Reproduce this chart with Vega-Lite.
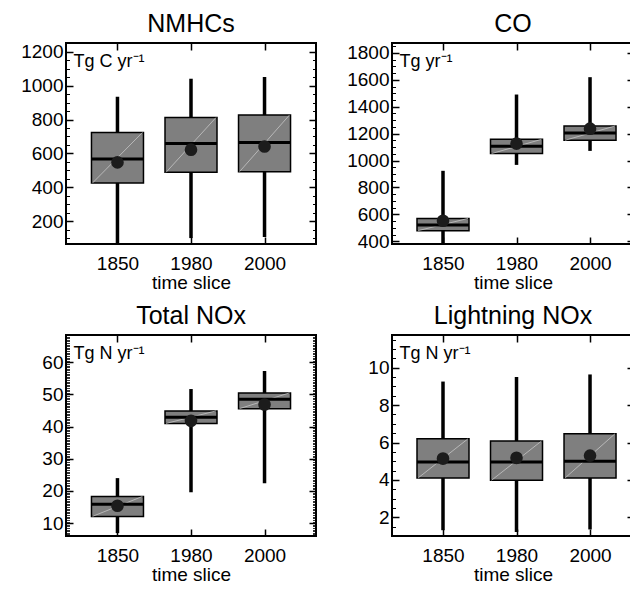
{
  "$schema": "https://vega.github.io/schema/vega-lite/v6.json",
  "background": "white",
  "padding": {"left": 13, "top": 11, "right": 0, "bottom": 0},
  "config": {
    "font": "Liberation Sans",
    "view": {"stroke": "black", "strokeWidth": 2},
    "title": {"font": "Liberation Sans", "fontSize": 25, "fontWeight": "normal", "color": "black", "offset": 5},
    "axis": {
      "domain": false,
      "grid": false,
      "tickColor": "black",
      "labelColor": "black",
      "titleColor": "black",
      "labelFont": "Liberation Sans",
      "titleFont": "Liberation Sans",
      "labelFontSize": 19,
      "titleFontSize": 19,
      "titleFontWeight": "normal"
    }
  },
  "datasets": {
    "nmhc": [
      {"slice": "1850", "lo": 65, "q1": 425, "med": 567, "q3": 724, "hi": 935, "mean": 547},
      {"slice": "1980", "lo": 100, "q1": 488, "med": 659, "q3": 812, "hi": 1041, "mean": 622},
      {"slice": "2000", "lo": 106, "q1": 492, "med": 665, "q3": 827, "hi": 1051, "mean": 641}
    ],
    "co": [
      {"slice": "1850", "lo": 380, "q1": 479, "med": 521, "q3": 570, "hi": 924, "mean": 553},
      {"slice": "1980", "lo": 968, "q1": 1052, "med": 1106, "q3": 1158, "hi": 1491, "mean": 1126},
      {"slice": "2000", "lo": 1072, "q1": 1151, "med": 1205, "q3": 1257, "hi": 1620, "mean": 1237}
    ],
    "nox": [
      {"slice": "1850", "lo": 6.9, "q1": 12.1, "med": 15.9, "q3": 18.3, "hi": 24.0, "mean": 15.4},
      {"slice": "1980", "lo": 19.6, "q1": 41.0, "med": 42.9, "q3": 44.9, "hi": 51.7, "mean": 41.8},
      {"slice": "2000", "lo": 22.4, "q1": 45.6, "med": 48.5, "q3": 50.5, "hi": 57.3, "mean": 46.9}
    ],
    "lnox": [
      {"slice": "1850", "lo": 1.31, "q1": 4.1, "med": 4.96, "q3": 6.2, "hi": 9.26, "mean": 5.14},
      {"slice": "1980", "lo": 1.22, "q1": 3.98, "med": 4.96, "q3": 6.08, "hi": 9.5, "mean": 5.18},
      {"slice": "2000", "lo": 1.35, "q1": 4.1, "med": 5.0, "q3": 6.47, "hi": 9.64, "mean": 5.3}
    ]
  },
  "columns": 2,
  "spacing": {"row": 10, "column": 21},
  "concat": [
    {
      "title": "NMHCs",
      "width": 250,
      "height": 201,
      "data": {"name": "nmhc"},
      "resolve": {"axis": {"x": "independent", "y": "independent"}},
      "layer": [
        {
          "mark": {"type": "rule", "strokeWidth": 3.5, "color": "black"},
          "encoding": {
            "x": {"field": "slice", "type": "ordinal", "scale": {"type": "point", "padding": 0.7},
              "axis": {"orient": "bottom", "title": "time slice", "labelAngle": 0, "tickSize": -7, "tickWidth": 1.5, "labelPadding": 17, "titlePadding": 0}},
            "y": {"field": "lo", "type": "quantitative", "scale": {"domain": [65, 1252], "nice": false, "zero": false},
              "axis": {"orient": "left", "format": "d", "values": [200, 400, 600, 800, 1000, 1200], "tickSize": -7, "tickWidth": 1.5, "labelPadding": 10, "minExtent": 52, "maxExtent": 52,
                "title": "Tg C yr⁻¹", "titleAngle": 0, "titleAlign": "left", "titleBaseline": "top", "titleX": 7, "titleY": 9, "titleFontSize": 18}},
            "y2": {"field": "hi"}
          }
        },
        {
          "mark": {"type": "bar", "width": 52, "fill": "#7f7f7f", "stroke": "black", "strokeWidth": 1.5},
          "encoding": {
            "x": {"field": "slice", "type": "ordinal", "axis": {"orient": "top", "labels": false, "title": null, "tickSize": -7, "tickWidth": 1.5}},
            "y": {"field": "q1", "type": "quantitative", "axis": {"orient": "right", "labels": false, "title": null, "values": [200, 400, 600, 800, 1000, 1200], "tickSize": -7, "tickWidth": 1.5}},
            "y2": {"field": "q3"}
          }
        },
        {
          "mark": {"type": "rule", "xOffset": -25, "x2Offset": 25, "color": "#d0d0d0", "strokeWidth": 0.7},
          "encoding": {
            "x": {"field": "slice", "type": "ordinal", "axis": null},
            "x2": {"field": "slice"},
            "y": {"field": "q1", "type": "quantitative", "axis": {"orient": "left", "labels": false, "title": null, "tickSize": -3.5, "tickWidth": 1,
              "values": [100, 150, 250, 300, 350, 450, 500, 550, 650, 700, 750, 850, 900, 950, 1050, 1100, 1150, 1250]}},
            "y2": {"field": "q3"}
          }
        },
        {
          "mark": {"type": "tick", "size": 52, "thickness": 3, "color": "black", "opacity": 1},
          "encoding": {
            "x": {"field": "slice", "type": "ordinal", "axis": null},
            "y": {"field": "med", "type": "quantitative", "axis": {"orient": "right", "labels": false, "title": null, "tickSize": -3.5, "tickWidth": 1,
              "values": [100, 150, 250, 300, 350, 450, 500, 550, 650, 700, 750, 850, 900, 950, 1050, 1100, 1150, 1250]}}
          }
        },
        {
          "mark": {"type": "point", "filled": true, "size": 160, "color": "#1c1c1c", "opacity": 1},
          "encoding": {
            "x": {"field": "slice", "type": "ordinal", "axis": null},
            "y": {"field": "mean", "type": "quantitative", "axis": null}
          }
        }
      ]
    },
    {
      "title": "CO",
      "width": 242,
      "height": 201,
      "data": {"name": "co"},
      "resolve": {"axis": {"x": "independent", "y": "independent"}},
      "layer": [
        {
          "mark": {"type": "rule", "strokeWidth": 3.5, "color": "black"},
          "encoding": {
            "x": {"field": "slice", "type": "ordinal", "scale": {"type": "point", "padding": 0.646, "align": 0.537},
              "axis": {"orient": "bottom", "title": "time slice", "labelAngle": 0, "tickSize": -7, "tickWidth": 1.5, "labelPadding": 17, "titlePadding": 0}},
            "y": {"field": "lo", "type": "quantitative", "scale": {"domain": [380, 1874], "nice": false, "zero": false},
              "axis": {"orient": "left", "format": "d", "values": [400, 600, 800, 1000, 1200, 1400, 1600, 1800], "tickSize": -7, "tickWidth": 1.5, "labelPadding": 10, "minExtent": 52, "maxExtent": 52,
                "title": "Tg yr⁻¹", "titleAngle": 0, "titleAlign": "left", "titleBaseline": "top", "titleX": 7, "titleY": 9, "titleFontSize": 18}},
            "y2": {"field": "hi"}
          }
        },
        {
          "mark": {"type": "bar", "width": 52, "fill": "#7f7f7f", "stroke": "black", "strokeWidth": 1.5},
          "encoding": {
            "x": {"field": "slice", "type": "ordinal", "axis": {"orient": "top", "labels": false, "title": null, "tickSize": -7, "tickWidth": 1.5}},
            "y": {"field": "q1", "type": "quantitative", "axis": {"orient": "right", "labels": false, "title": null, "values": [400, 600, 800, 1000, 1200, 1400, 1600, 1800], "tickSize": -7, "tickWidth": 1.5}},
            "y2": {"field": "q3"}
          }
        },
        {
          "mark": {"type": "rule", "xOffset": -25, "x2Offset": 25, "color": "#d0d0d0", "strokeWidth": 0.7},
          "encoding": {
            "x": {"field": "slice", "type": "ordinal", "axis": null},
            "x2": {"field": "slice"},
            "y": {"field": "q1", "type": "quantitative", "axis": {"orient": "left", "labels": false, "title": null, "tickSize": -3.5, "tickWidth": 1,
              "values": [450, 500, 550, 650, 700, 750, 850, 900, 950, 1050, 1100, 1150, 1250, 1300, 1350, 1450, 1500, 1550, 1650, 1700, 1750, 1850]}},
            "y2": {"field": "q3"}
          }
        },
        {
          "mark": {"type": "tick", "size": 52, "thickness": 3, "color": "black", "opacity": 1},
          "encoding": {
            "x": {"field": "slice", "type": "ordinal", "axis": null},
            "y": {"field": "med", "type": "quantitative", "axis": null}
          }
        },
        {
          "mark": {"type": "point", "filled": true, "size": 160, "color": "#1c1c1c", "opacity": 1},
          "encoding": {
            "x": {"field": "slice", "type": "ordinal", "axis": null},
            "y": {"field": "mean", "type": "quantitative", "axis": null}
          }
        }
      ]
    },
    {
      "title": "Total NOx",
      "width": 250,
      "height": 201,
      "data": {"name": "nox"},
      "resolve": {"axis": {"x": "independent", "y": "independent"}},
      "layer": [
        {
          "mark": {"type": "rule", "strokeWidth": 3.5, "color": "black"},
          "encoding": {
            "x": {"field": "slice", "type": "ordinal", "scale": {"type": "point", "padding": 0.7},
              "axis": {"orient": "bottom", "title": "time slice", "labelAngle": 0, "tickSize": -7, "tickWidth": 1.5, "labelPadding": 17, "titlePadding": 0}},
            "y": {"field": "lo", "type": "quantitative", "scale": {"domain": [6, 68.5], "nice": false, "zero": false},
              "axis": {"orient": "left", "format": "d", "values": [10, 20, 30, 40, 50, 60], "tickSize": -7, "tickWidth": 1.5, "labelPadding": 10, "minExtent": 52, "maxExtent": 52,
                "title": "Tg N yr⁻¹", "titleAngle": 0, "titleAlign": "left", "titleBaseline": "top", "titleX": 7, "titleY": 9, "titleFontSize": 18}},
            "y2": {"field": "hi"}
          }
        },
        {
          "mark": {"type": "bar", "width": 52, "fill": "#7f7f7f", "stroke": "black", "strokeWidth": 1.5},
          "encoding": {
            "x": {"field": "slice", "type": "ordinal", "axis": {"orient": "top", "labels": false, "title": null, "tickSize": -7, "tickWidth": 1.5}},
            "y": {"field": "q1", "type": "quantitative", "axis": {"orient": "right", "labels": false, "title": null, "values": [10, 20, 30, 40, 50, 60], "tickSize": -7, "tickWidth": 1.5}},
            "y2": {"field": "q3"}
          }
        },
        {
          "mark": {"type": "rule", "xOffset": -25, "x2Offset": 25, "color": "#d0d0d0", "strokeWidth": 0.7},
          "encoding": {
            "x": {"field": "slice", "type": "ordinal", "axis": null},
            "x2": {"field": "slice"},
            "y": {"field": "q1", "type": "quantitative", "axis": {"orient": "left", "labels": false, "title": null, "tickSize": -3.5, "tickWidth": 0.8,
              "values": [6.5, 7, 7.5, 8, 8.5, 9, 9.5, 10.5, 11, 11.5, 12, 12.5, 13, 13.5, 14, 14.5, 15, 15.5, 16, 16.5, 17, 17.5, 18, 18.5, 19, 19.5, 20.5, 21, 21.5, 22, 22.5, 23, 23.5, 24, 24.5, 25, 25.5, 26, 26.5, 27, 27.5, 28, 28.5, 29, 29.5, 30.5, 31, 31.5, 32, 32.5, 33, 33.5, 34, 34.5, 35, 35.5, 36, 36.5, 37, 37.5, 38, 38.5, 39, 39.5, 40.5, 41, 41.5, 42, 42.5, 43, 43.5, 44, 44.5, 45, 45.5, 46, 46.5, 47, 47.5, 48, 48.5, 49, 49.5, 50.5, 51, 51.5, 52, 52.5, 53, 53.5, 54, 54.5, 55, 55.5, 56, 56.5, 57, 57.5, 58, 58.5, 59, 59.5, 60.5, 61, 61.5, 62, 62.5, 63, 63.5, 64, 64.5, 65, 65.5, 66, 66.5, 67, 67.5, 68]}},
            "y2": {"field": "q3"}
          }
        },
        {
          "mark": {"type": "tick", "size": 52, "thickness": 3, "color": "black", "opacity": 1},
          "encoding": {
            "x": {"field": "slice", "type": "ordinal", "axis": null},
            "y": {"field": "med", "type": "quantitative", "axis": {"orient": "right", "labels": false, "title": null, "tickSize": -3.5, "tickWidth": 0.8,
              "values": [6.5, 7, 7.5, 8, 8.5, 9, 9.5, 10.5, 11, 11.5, 12, 12.5, 13, 13.5, 14, 14.5, 15, 15.5, 16, 16.5, 17, 17.5, 18, 18.5, 19, 19.5, 20.5, 21, 21.5, 22, 22.5, 23, 23.5, 24, 24.5, 25, 25.5, 26, 26.5, 27, 27.5, 28, 28.5, 29, 29.5, 30.5, 31, 31.5, 32, 32.5, 33, 33.5, 34, 34.5, 35, 35.5, 36, 36.5, 37, 37.5, 38, 38.5, 39, 39.5, 40.5, 41, 41.5, 42, 42.5, 43, 43.5, 44, 44.5, 45, 45.5, 46, 46.5, 47, 47.5, 48, 48.5, 49, 49.5, 50.5, 51, 51.5, 52, 52.5, 53, 53.5, 54, 54.5, 55, 55.5, 56, 56.5, 57, 57.5, 58, 58.5, 59, 59.5, 60.5, 61, 61.5, 62, 62.5, 63, 63.5, 64, 64.5, 65, 65.5, 66, 66.5, 67, 67.5, 68]}}
          }
        },
        {
          "mark": {"type": "point", "filled": true, "size": 160, "color": "#1c1c1c", "opacity": 1},
          "encoding": {
            "x": {"field": "slice", "type": "ordinal", "axis": null},
            "y": {"field": "mean", "type": "quantitative", "axis": null}
          }
        }
      ]
    },
    {
      "title": "Lightning NOx",
      "width": 242,
      "height": 201,
      "data": {"name": "lnox"},
      "resolve": {"axis": {"x": "independent", "y": "independent"}},
      "layer": [
        {
          "mark": {"type": "rule", "strokeWidth": 3.5, "color": "black"},
          "encoding": {
            "x": {"field": "slice", "type": "ordinal", "scale": {"type": "point", "padding": 0.646, "align": 0.537},
              "axis": {"orient": "bottom", "title": "time slice", "labelAngle": 0, "tickSize": -7, "tickWidth": 1.5, "labelPadding": 17, "titlePadding": 0}},
            "y": {"field": "lo", "type": "quantitative", "scale": {"domain": [1, 11.75], "nice": false, "zero": false},
              "axis": {"orient": "left", "format": "d", "values": [2, 4, 6, 8, 10], "tickSize": -7, "tickWidth": 1.5, "labelPadding": 10, "minExtent": 52, "maxExtent": 52,
                "title": "Tg N yr⁻¹", "titleAngle": 0, "titleAlign": "left", "titleBaseline": "top", "titleX": 7, "titleY": 9, "titleFontSize": 18}},
            "y2": {"field": "hi"}
          }
        },
        {
          "mark": {"type": "bar", "width": 52, "fill": "#7f7f7f", "stroke": "black", "strokeWidth": 1.5},
          "encoding": {
            "x": {"field": "slice", "type": "ordinal", "axis": {"orient": "top", "labels": false, "title": null, "tickSize": -7, "tickWidth": 1.5}},
            "y": {"field": "q1", "type": "quantitative", "axis": {"orient": "right", "labels": false, "title": null, "values": [2, 4, 6, 8, 10], "tickSize": -7, "tickWidth": 1.5}},
            "y2": {"field": "q3"}
          }
        },
        {
          "mark": {"type": "rule", "xOffset": -25, "x2Offset": 25, "color": "#d0d0d0", "strokeWidth": 0.7},
          "encoding": {
            "x": {"field": "slice", "type": "ordinal", "axis": null},
            "x2": {"field": "slice"},
            "y": {"field": "q1", "type": "quantitative", "axis": {"orient": "left", "labels": false, "title": null, "tickSize": -3.5, "tickWidth": 1,
              "values": [1, 1.5, 2.5, 3, 3.5, 4.5, 5, 5.5, 6.5, 7, 7.5, 8.5, 9, 9.5, 10.5, 11, 11.5]}},
            "y2": {"field": "q3"}
          }
        },
        {
          "mark": {"type": "tick", "size": 52, "thickness": 3, "color": "black", "opacity": 1},
          "encoding": {
            "x": {"field": "slice", "type": "ordinal", "axis": null},
            "y": {"field": "med", "type": "quantitative", "axis": null}
          }
        },
        {
          "mark": {"type": "point", "filled": true, "size": 160, "color": "#1c1c1c", "opacity": 1},
          "encoding": {
            "x": {"field": "slice", "type": "ordinal", "axis": null},
            "y": {"field": "mean", "type": "quantitative", "axis": null}
          }
        }
      ]
    }
  ]
}
